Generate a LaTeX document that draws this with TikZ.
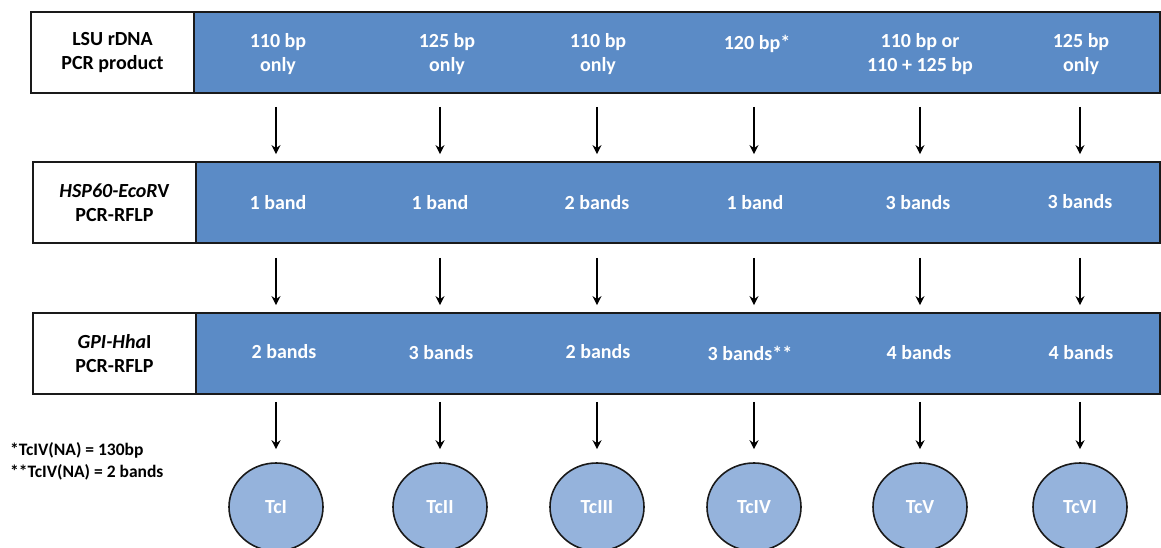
\documentclass[tikz,border=0pt]{standalone}
\usepackage{fontspec}
\setmainfont{Carlito}
\usepackage{tikz}
\usetikzlibrary{positioning,arrows.meta,shapes.geometric}
\usepackage{xcolor}
\definecolor{barblue}{HTML}{5B8BC6}
\definecolor{cladeblue}{HTML}{95B3DC}
\definecolor{edgegray}{HTML}{1A1A1A}

\begin{document}
\begin{tikzpicture}[
    x=1pt, y=-1pt,
    labelbox/.style={draw=edgegray, line width=1.8pt, fill=white, minimum width=163pt, minimum height=81pt, inner sep=0pt, align=center, font=\fontsize{20}{23.5}\selectfont\bfseries},
    bar/.style={draw=edgegray, line width=1.8pt, fill=barblue, minimum height=81pt, inner sep=0pt},
    coltext/.style={text=white, align=center, inner sep=0pt, font=\fontsize{20}{23.5}\selectfont\bfseries},
    clade/.style={ellipse, draw=edgegray, line width=1.6pt, fill=cladeblue, minimum width=94pt, minimum height=88pt, inner sep=0pt, text=white, font=\fontsize{20}{23.5}\selectfont\bfseries},
    note/.style={anchor=west, inner sep=0pt, font=\fontsize{17.5}{22}\selectfont\bfseries},
    arrow/.style={-{Stealth[length=9pt,width=9pt,inset=3pt]}, line width=1.4pt},
]
\useasboundingbox (0,0) rectangle (1161,548);

% === Row 1: LSU rDNA ===
\node[bar, minimum width=966pt] (lsubar) at (677,52.5) {};
\node[labelbox] (lsu) at (112.5,52.5) {LSU rDNA\\PCR product};
\node[coltext] (lsu1) at (278,54) {110 bp\\only};
\node[coltext] (lsu2) at (447,54) {125 bp\\only};
\node[coltext] (lsu3) at (598,54) {110 bp\\only};
\node[coltext] (lsu4) at (757,44) {120 bp*};
\node[coltext] (lsu5) at (920,54) {110 bp or\\110 + 125 bp};
\node[coltext] (lsu6) at (1081,54) {125 bp\\only};

% === Row 2: HSP60-EcoRV ===
\node[bar, minimum width=964pt] (hspbar) at (678,202.5) {};
\node[labelbox] (hsp) at (114.5,202.5) {\itshape HSP60-EcoR\upshape V\\PCR-RFLP};
\node[coltext] (hsp1) at (278,203) {1 band};
\node[coltext] (hsp2) at (440,203) {1 band};
\node[coltext] (hsp3) at (597,203) {2 bands};
\node[coltext] (hsp4) at (755,203) {1 band};
\node[coltext] (hsp5) at (918,203) {3 bands};
\node[coltext] (hsp6) at (1080,202) {3 bands};

% === Row 3: GPI-HhaI ===
\node[bar, minimum width=964pt] (gpibar) at (678,353.5) {};
\node[labelbox] (gpi) at (114.5,353.5) {\itshape GPI-Hha\upshape I\\PCR-RFLP};
\node[coltext] (gpi1) at (284,352) {2 bands};
\node[coltext] (gpi2) at (441,353) {3 bands};
\node[coltext] (gpi3) at (598,352) {2 bands};
\node[coltext] (gpi4) at (750,353) {3 bands**};
\node[coltext] (gpi5) at (919,353) {4 bands};
\node[coltext] (gpi6) at (1081,353) {4 bands};

% === Row 4: lineages ===
\node[clade] (tc1) at (276,507) {TcI};
\node[clade] (tc2) at (440,507) {TcII};
\node[clade] (tc3) at (597,507) {TcIII};
\node[clade] (tc4) at (754,507) {TcIV};
\node[clade] (tc5) at (920,507) {TcV};
\node[clade] (tc6) at (1080,507) {TcVI};

% Arrows between rows
\foreach \i in {1,...,6} {
    \draw[arrow, shorten <=13pt, shorten >=7pt] (lsubar.south -| tc\i) -- (hspbar.north -| tc\i);
    \draw[arrow, shorten <=14pt, shorten >=7pt] (hspbar.south -| tc\i) -- (gpibar.north -| tc\i);
    \draw[arrow, shorten <=7pt, shorten >=13pt] (gpibar.south -| tc\i) -- (tc\i.north);
}

% Footnotes
\node[note] (fn1) at (10,450) {*TcIV(NA) = 130bp};
\node[note] (fn2) at (10,472) {**TcIV(NA) = 2 bands};

\end{tikzpicture}
\end{document}
